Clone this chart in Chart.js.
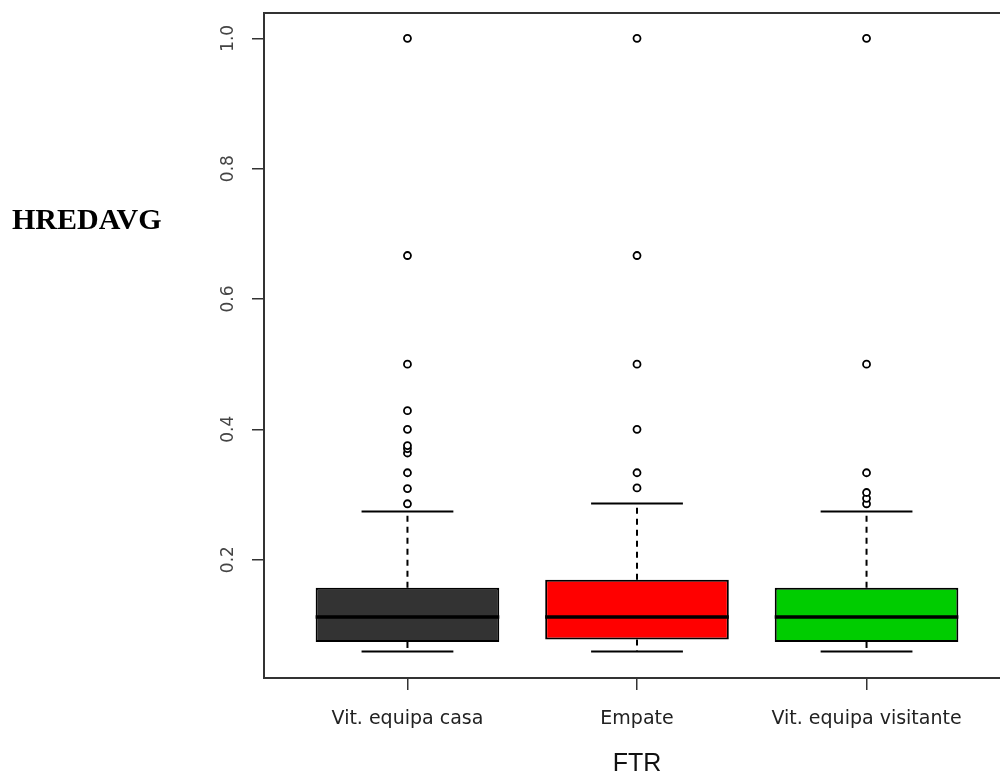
<!DOCTYPE html>
<html>
<head>
<meta charset="utf-8">
<title>HREDAVG por FTR</title>
<script src="https://cdn.jsdelivr.net/npm/chart.js@4/dist/chart.umd.min.js"></script>
<style>
  html, body { margin: 0; padding: 0; background: #fff; overflow: hidden; }
  #wrap { width: 1000px; height: 778px; overflow: hidden; }
</style>
</head>
<body>
<div id="wrap"><canvas id="chart" width="1020" height="778"></canvas></div>
<script>
// boxplot summary per FTR group
const categories = ['Vit. equipa casa', 'Empate', 'Vit. equipa visitante'];
const lowerWhisker = [0.0588, 0.0588, 0.0588];
const q1 = [0.0736, 0.0772, 0.0736];
const median = [0.112, 0.112, 0.112];
const q3 = [0.157, 0.169, 0.157];
const upperWhisker = [0.274, 0.286, 0.274];
const outliersCasa = [0.2857, 0.309, 0.3333, 0.3636, 0.3704, 0.375, 0.4, 0.4286, 0.5, 0.6667, 1.0];
const outliersEmpate = [0.31, 0.3333, 0.4, 0.5, 0.6667, 1.0];
const outliersVisitante = [0.2857, 0.2941, 0.303, 0.3333, 0.5, 1.0];
const boxColors = ['#333333', '#ff0000', '#00cc00'];
const yTicks = [0.2, 0.4, 0.6, 0.8, 1.0];

const outlierPoints = [];
[outliersCasa, outliersEmpate, outliersVisitante].forEach((list, i) => {
    list.forEach(v => outlierPoints.push({x: i + 1, y: v}));
});

function line(ctx, x1, y1, x2, y2) {
    ctx.beginPath();
    ctx.moveTo(x1, y1);
    ctx.lineTo(x2, y2);
    ctx.stroke();
}

// whiskers, caps, medians, the frame and the y title
const boxExtras = {
    id: 'boxExtras',
    afterDatasetsDraw(chart) {
        const ctx = chart.ctx;
        const xs = chart.scales.x;
        const ys = chart.scales.y;
        ctx.save();
        ctx.strokeStyle = '#000';
        for (let i = 0; i < categories.length; i++) {
            const pos = i + 1;
            const cx = xs.getPixelForValue(pos);
            const capL = xs.getPixelForValue(pos - 0.2);
            const capR = xs.getPixelForValue(pos + 0.2);
            const boxL = xs.getPixelForValue(pos - 0.4);
            const boxR = xs.getPixelForValue(pos + 0.4);

            ctx.lineWidth = 2;
            ctx.setLineDash([6, 5]);
            line(ctx, cx, ys.getPixelForValue(q3[i]), cx, ys.getPixelForValue(upperWhisker[i]));
            line(ctx, cx, ys.getPixelForValue(q1[i]), cx, ys.getPixelForValue(lowerWhisker[i]));
            ctx.setLineDash([]);
            line(ctx, capL, ys.getPixelForValue(upperWhisker[i]), capR, ys.getPixelForValue(upperWhisker[i]));
            line(ctx, capL, ys.getPixelForValue(lowerWhisker[i]), capR, ys.getPixelForValue(lowerWhisker[i]));

            ctx.lineWidth = 3.5;
            line(ctx, boxL, ys.getPixelForValue(median[i]), boxR, ys.getPixelForValue(median[i]));
        }
        const a = chart.chartArea;
        ctx.strokeStyle = '#333';
        ctx.lineWidth = 2;
        ctx.strokeRect(a.left, a.top, a.right - a.left, a.bottom - a.top);
        ctx.restore();
    },
    afterDraw(chart) {
        const ctx = chart.ctx;
        ctx.save();
        ctx.fillStyle = '#000';
        ctx.font = 'bold 30px "Liberation Serif", "Times New Roman", serif';
        ctx.textBaseline = 'alphabetic';
        ctx.fillText('HREDAVG', 12, 229);
        ctx.restore();
    }
};

const chart = new Chart(document.getElementById('chart'), {
    type: 'bar',
    data: {
        datasets: [
            {
                type: 'bar',
                data: categories.map((c, i) => ({x: i + 1, y: [q1[i], q3[i]]})),
                backgroundColor: boxColors,
                borderColor: '#000',
                borderWidth: 2,
                borderSkipped: false,
                categoryPercentage: 0.8,
                barPercentage: 1
            },
            {
                type: 'scatter',
                data: outlierPoints,
                pointStyle: 'circle',
                pointRadius: 3.5,
                pointBorderWidth: 1.8,
                pointBorderColor: '#000',
                pointBackgroundColor: '#fff',
                showLine: false
            }
        ]
    },
    options: {
        responsive: false,
        animation: false,
        layout: {padding: {top: 13, left: 0, right: 10, bottom: 0}},
        plugins: {legend: {display: false}, tooltip: {enabled: false}},
        scales: {
            x: {
                type: 'linear',
                offset: false,
                min: 0.375,
                max: 3.625,
                afterBuildTicks: s => { s.ticks = categories.map((c, i) => ({value: i + 1})); },
                afterFit: s => { s.height = 100; s.paddingLeft = 0; s.paddingRight = 0; },
                border: {display: false},
                grid: {offset: false, drawOnChartArea: false, drawTicks: true, tickLength: 12, color: '#333', lineWidth: 1.5},
                ticks: {
                    padding: 18,
                    color: '#222',
                    font: {family: '"DejaVu Sans", sans-serif', size: 19},
                    maxRotation: 0,
                    autoSkip: false,
                    callback: v => categories[Math.round(v) - 1]
                },
                title: {
                    display: true,
                    text: 'FTR',
                    color: '#111',
                    font: {family: '"Liberation Sans", Arial, sans-serif', size: 25, lineHeight: 1},
                    padding: {top: 0, bottom: 1}
                }
            },
            y: {
                min: 0.0183,
                max: 1.0389,
                afterBuildTicks: s => { s.ticks = yTicks.map(v => ({value: v})); },
                afterFit: s => { s.width = 264; s.paddingTop = 0; s.paddingBottom = 0; },
                border: {display: false},
                grid: {drawOnChartArea: false, drawTicks: true, tickLength: 12, color: '#333', lineWidth: 1.5},
                ticks: {
                    minRotation: 90,
                    maxRotation: 90,
                    crossAlign: 'center',
                    padding: 10,
                    color: '#444',
                    font: {family: '"DejaVu Sans", sans-serif', size: 17},
                    autoSkip: false,
                    callback: v => v.toFixed(1)
                }
            }
        }
    },
    plugins: [boxExtras]
});
</script>
</body>
</html>
